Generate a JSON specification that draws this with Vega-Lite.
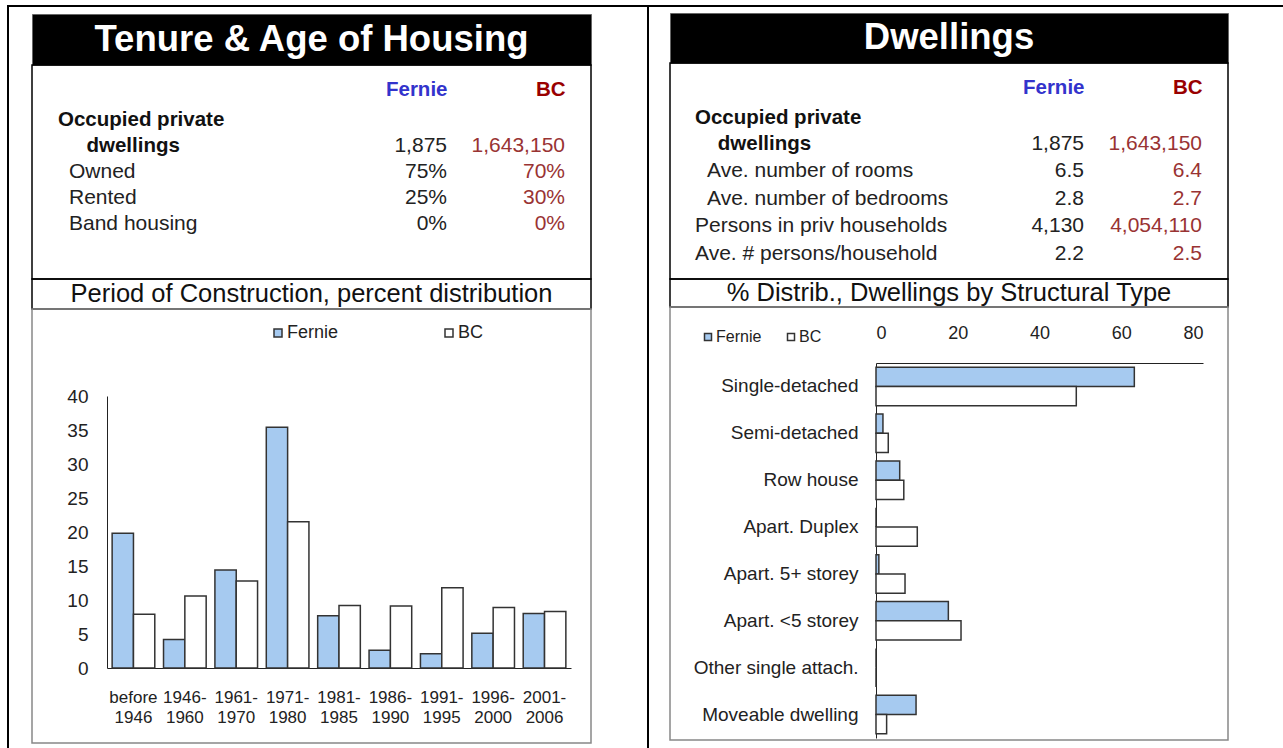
{
  "$schema": "https://vega.github.io/schema/vega-lite/v6.json",
  "background": "white",
  "padding": {"left": 7, "top": 5, "right": 0, "bottom": 0},
  "config": {
    "font": "Liberation Sans",
    "view": {"stroke": null},
    "axis": {"labelColor": "#222", "domainColor": "#222", "labelFont": "Liberation Sans", "grid": false, "ticks": false, "tickSize": 0, "title": null},
    "legend": {"labelFont": "Liberation Sans", "labelColor": "#222"}
  },
  "spacing": 0,
  "bounds": "full",
  "resolve": {"scale": {"color": "independent"}},
  "vconcat": [
    {"width": 1276, "height": 2, "view": {"fill": "black", "stroke": null}, "data": {"values": [{}]}, "mark": {"type": "point", "opacity": 0, "size": 0}, "encoding": {}},
    {
      "spacing": 0,
      "bounds": "full",
      "resolve": {"scale": {"color": "independent"}},
      "hconcat": [
        {"width": 2, "height": 741, "view": {"fill": "black", "stroke": null}, "data": {"values": [{}]}, "mark": {"type": "point", "opacity": 0, "size": 0}, "encoding": {}},
        {"width": 22, "height": 1, "data": {"values": [{}]}, "mark": {"type": "point", "opacity": 0, "size": 0}, "encoding": {}},
        {
          "spacing": 0,
          "bounds": "flush",
          "resolve": {"scale": {"color": "independent"}},
          "vconcat": [
            {"width": 559, "height": 7, "data": {"values": [{}]}, "mark": {"type": "point", "opacity": 0, "size": 0}, "encoding": {}},
            {
              "width": 559, "height": 51,
              "view": {"fill": "black", "stroke": "#666", "strokeWidth": 1},
              "data": {"values": [{"title": "Tenure & Age of Housing"}]},
              "mark": {"type": "text", "color": "white", "fontSize": 36.5, "fontWeight": "bold", "baseline": "middle"},
              "encoding": {
                "x": {"field": "title", "type": "nominal", "axis": null},
                "y": {"field": "title", "type": "nominal", "axis": null},
                "text": {"field": "title"}
              }
            },
            {
              "width": 559, "height": 214,
              "view": {"stroke": "black", "strokeWidth": 1.5},
              "data": {"values": [
                {"item": "Occupied private\n\u200b\u00a0\u00a0\u00a0\u00a0\u00a0dwellings", "level": 1, "Fernie": "1,875", "BC": "1,643,150"},
                {"item": "Owned", "level": 2, "Fernie": "75%", "BC": "70%"},
                {"item": "Rented", "level": 2, "Fernie": "25%", "BC": "30%"},
                {"item": "Band housing", "level": 2, "Fernie": "0%", "BC": "0%"}
              ]},
              "layer": [
                {
                  "transform": [{"filter": "indexof(datum.item, 'Occupied') == 0"}],
                  "mark": {"type": "text", "align": "left", "baseline": "bottom", "lineBreak": "\n", "lineHeight": 26, "dy": -26, "fontSize": 20.5, "fontWeight": "bold", "color": "#111"},
                  "encoding": {
                    "x": {"field": "level", "type": "ordinal", "scale": {"type": "point", "domain": [1, 2], "range": [26, 37], "padding": 0}, "axis": null},
                    "y": {"field": "item", "type": "nominal", "sort": null, "scale": {"type": "point", "range": [91, 169], "padding": 0}, "axis": null},
                    "text": {"field": "item"}
                  }
                },
                {
                  "transform": [{"filter": "indexof(datum.item, 'Occupied') != 0"}],
                  "mark": {"type": "text", "align": "left", "baseline": "bottom", "fontSize": 21, "color": "#222"},
                  "encoding": {
                    "x": {"field": "level", "type": "ordinal", "scale": {"type": "point", "domain": [1, 2], "range": [26, 37], "padding": 0}, "axis": null},
                    "y": {"field": "item", "type": "nominal", "sort": null, "axis": null},
                    "text": {"field": "item"}
                  }
                },
                {
                  "transform": [{"fold": ["Fernie", "BC"], "as": ["area", "value"]}],
                  "mark": {"type": "text", "align": "right", "baseline": "bottom", "fontSize": 21},
                  "encoding": {
                    "x": {"field": "area", "type": "nominal", "sort": ["Fernie", "BC"], "scale": {"type": "point", "range": [415, 533], "padding": 0},
                      "axis": {"orient": "top", "offset": -24, "labelPadding": 0, "labelBaseline": "middle", "labelAlign": "right", "labelAngle": 0, "labelFontSize": 20.5, "labelFontWeight": "bold", "domain": false,
                        "labelColor": {"condition": {"test": "datum.value === 'Fernie'", "value": "#3333CC"}, "value": "#990000"}}},
                    "y": {"field": "item", "type": "nominal", "sort": null, "axis": null},
                    "text": {"field": "value"},
                    "color": {"field": "area", "type": "nominal", "scale": {"domain": ["Fernie", "BC"], "range": ["#222222", "#993333"]}, "legend": null}
                  }
                }
              ],
              "resolve": {"scale": {"x": "independent"}}
            },
            {
              "width": 559, "height": 30,
              "view": {"stroke": "black", "strokeWidth": 1.5},
              "data": {"values": [{"title": "Period of Construction, percent distribution"}]},
              "mark": {"type": "text", "color": "#111", "fontSize": 25.5, "baseline": "middle"},
              "encoding": {
                "x": {"field": "title", "type": "nominal", "axis": null},
                "y": {"field": "title", "type": "nominal", "axis": null},
                "text": {"field": "title"}
              }
            },
            {
              "width": 559, "height": 434,
              "view": {"stroke": "#888", "strokeWidth": 1.5},
              "data": {"values": [
                {"period": "before 1946", "area": "Fernie", "pct": 19.8},
                {"period": "before 1946", "area": "BC", "pct": 7.9},
                {"period": "1946-1960", "area": "Fernie", "pct": 4.2},
                {"period": "1946-1960", "area": "BC", "pct": 10.6},
                {"period": "1961-1970", "area": "Fernie", "pct": 14.4},
                {"period": "1961-1970", "area": "BC", "pct": 12.8},
                {"period": "1971-1980", "area": "Fernie", "pct": 35.4},
                {"period": "1971-1980", "area": "BC", "pct": 21.5},
                {"period": "1981-1985", "area": "Fernie", "pct": 7.7},
                {"period": "1981-1985", "area": "BC", "pct": 9.2},
                {"period": "1986-1990", "area": "Fernie", "pct": 2.6},
                {"period": "1986-1990", "area": "BC", "pct": 9.1},
                {"period": "1991-1995", "area": "Fernie", "pct": 2.1},
                {"period": "1991-1995", "area": "BC", "pct": 11.8},
                {"period": "1996-2000", "area": "Fernie", "pct": 5.1},
                {"period": "1996-2000", "area": "BC", "pct": 8.9},
                {"period": "2001-2006", "area": "Fernie", "pct": 8.0},
                {"period": "2001-2006", "area": "BC", "pct": 8.3}
              ]},
              "mark": {"type": "bar", "stroke": "#333", "strokeWidth": 1.5},
              "encoding": {
                "x": {"field": "period", "type": "nominal", "sort": null,
                  "scale": {"range": [75, 539], "paddingInner": 0.17, "paddingOuter": 0.1},
                  "axis": {"orient": "bottom", "offset": -75, "labelAngle": 0, "labelFontSize": 17, "labelPadding": 21, "labelLineHeight": 20, "labelBaseline": "top",
                    "labelExpr": "indexof(datum.label, ' ') > 0 ? split(datum.label, ' ') : [slice(datum.label, 0, 5), slice(datum.label, 5)]"}},
                "xOffset": {"field": "area", "sort": ["Fernie", "BC"]},
                "y": {"field": "pct", "type": "quantitative",
                  "scale": {"domain": [0, 40], "range": [359, 87], "nice": false},
                  "axis": {"orient": "left", "offset": -75, "values": [0, 5, 10, 15, 20, 25, 30, 35, 40], "labelFontSize": 19, "labelPadding": 19}},
                "color": {"field": "area", "type": "nominal",
                  "scale": {"domain": ["Fernie", "BC"], "range": ["#A6CAF0", "#FFFFFF"]},
                  "legend": {"title": null, "orient": "none", "legendX": 237, "legendY": 15, "direction": "horizontal", "symbolType": "square", "symbolSize": 64, "symbolStrokeColor": "#333", "symbolStrokeWidth": 1.5, "labelFontSize": 18, "labelOffset": 0, "columnPadding": 101}}
              }
            }
          ]
        },
        {"width": 55, "height": 1, "data": {"values": [{}]}, "mark": {"type": "point", "opacity": 0, "size": 0}, "encoding": {}},
        {"width": 2, "height": 741, "view": {"fill": "black", "stroke": null}, "data": {"values": [{}]}, "mark": {"type": "point", "opacity": 0, "size": 0}, "encoding": {}},
        {"width": 20, "height": 1, "data": {"values": [{}]}, "mark": {"type": "point", "opacity": 0, "size": 0}, "encoding": {}},
        {
          "spacing": 0,
          "bounds": "flush",
          "resolve": {"scale": {"color": "independent"}},
          "vconcat": [
            {"width": 558, "height": 6, "data": {"values": [{}]}, "mark": {"type": "point", "opacity": 0, "size": 0}, "encoding": {}},
            {
              "width": 558, "height": 50,
              "view": {"fill": "black", "stroke": "#666", "strokeWidth": 1},
              "data": {"values": [{"title": "Dwellings"}]},
              "mark": {"type": "text", "color": "white", "fontSize": 36.5, "fontWeight": "bold", "baseline": "middle"},
              "encoding": {
                "x": {"field": "title", "type": "nominal", "axis": null},
                "y": {"field": "title", "type": "nominal", "axis": null},
                "text": {"field": "title"}
              }
            },
            {
              "width": 558, "height": 216,
              "view": {"stroke": "black", "strokeWidth": 1.5},
              "data": {"values": [
                {"item": "Occupied private\n\u200b\u00a0\u00a0\u00a0\u00a0dwellings", "level": 1, "Fernie": "1,875", "BC": "1,643,150"},
                {"item": "Ave. number of rooms", "level": 2, "Fernie": "6.5", "BC": "6.4"},
                {"item": "Ave. number of bedrooms", "level": 2, "Fernie": "2.8", "BC": "2.7"},
                {"item": "Persons in priv households", "level": 1, "Fernie": "4,130", "BC": "4,054,110"},
                {"item": "Ave. # persons/household", "level": 1, "Fernie": "2.2", "BC": "2.5"}
              ]},
              "layer": [
                {
                  "transform": [{"filter": "indexof(datum.item, 'Occupied') == 0"}],
                  "mark": {"type": "text", "align": "left", "baseline": "bottom", "lineBreak": "\n", "lineHeight": 26, "dy": -26, "fontSize": 20.5, "fontWeight": "bold", "color": "#111"},
                  "encoding": {
                    "x": {"field": "level", "type": "ordinal", "scale": {"type": "point", "domain": [1, 2], "range": [25, 37], "padding": 0}, "axis": null},
                    "y": {"field": "item", "type": "nominal", "sort": null, "scale": {"type": "point", "range": [90.5, 200.5], "padding": 0}, "axis": null},
                    "text": {"field": "item"}
                  }
                },
                {
                  "transform": [{"filter": "indexof(datum.item, 'Occupied') != 0"}],
                  "mark": {"type": "text", "align": "left", "baseline": "bottom", "fontSize": 21, "color": "#222"},
                  "encoding": {
                    "x": {"field": "level", "type": "ordinal", "scale": {"type": "point", "domain": [1, 2], "range": [25, 37], "padding": 0}, "axis": null},
                    "y": {"field": "item", "type": "nominal", "sort": null, "axis": null},
                    "text": {"field": "item"}
                  }
                },
                {
                  "transform": [{"fold": ["Fernie", "BC"], "as": ["area", "value"]}],
                  "mark": {"type": "text", "align": "right", "baseline": "bottom", "fontSize": 21},
                  "encoding": {
                    "x": {"field": "area", "type": "nominal", "sort": ["Fernie", "BC"], "scale": {"type": "point", "range": [414, 532], "padding": 0},
                      "axis": {"orient": "top", "offset": -24, "labelPadding": 0, "labelBaseline": "middle", "labelAlign": "right", "labelAngle": 0, "labelFontSize": 20.5, "labelFontWeight": "bold", "domain": false,
                        "labelColor": {"condition": {"test": "datum.value === 'Fernie'", "value": "#3333CC"}, "value": "#990000"}}},
                    "y": {"field": "item", "type": "nominal", "sort": null, "axis": null},
                    "text": {"field": "value"},
                    "color": {"field": "area", "type": "nominal", "scale": {"domain": ["Fernie", "BC"], "range": ["#222222", "#993333"]}, "legend": null}
                  }
                }
              ],
              "resolve": {"scale": {"x": "independent"}}
            },
            {
              "width": 558, "height": 28,
              "view": {"stroke": "black", "strokeWidth": 1.5},
              "data": {"values": [{"title": "% Distrib., Dwellings by Structural Type"}]},
              "mark": {"type": "text", "color": "#111", "fontSize": 25.5, "baseline": "middle"},
              "encoding": {
                "x": {"field": "title", "type": "nominal", "axis": null},
                "y": {"field": "title", "type": "nominal", "axis": null},
                "text": {"field": "title"}
              }
            },
            {
              "width": 558, "height": 433,
              "view": {"stroke": "#888", "strokeWidth": 1.5},
              "data": {"values": [
                {"type": "Single-detached", "area": "Fernie", "pct": 63.2},
                {"type": "Single-detached", "area": "BC", "pct": 49.0},
                {"type": "Semi-detached", "area": "Fernie", "pct": 1.7},
                {"type": "Semi-detached", "area": "BC", "pct": 3.0},
                {"type": "Row house", "area": "Fernie", "pct": 5.8},
                {"type": "Row house", "area": "BC", "pct": 6.8},
                {"type": "Apart. Duplex", "area": "Fernie", "pct": 0},
                {"type": "Apart. Duplex", "area": "BC", "pct": 10.1},
                {"type": "Apart. 5+ storey", "area": "Fernie", "pct": 0.7},
                {"type": "Apart. 5+ storey", "area": "BC", "pct": 7.1},
                {"type": "Apart. <5 storey", "area": "Fernie", "pct": 17.7},
                {"type": "Apart. <5 storey", "area": "BC", "pct": 20.8},
                {"type": "Other single attach.", "area": "Fernie", "pct": 0},
                {"type": "Other single attach.", "area": "BC", "pct": 0},
                {"type": "Moveable dwelling", "area": "Fernie", "pct": 9.8},
                {"type": "Moveable dwelling", "area": "BC", "pct": 2.6}
              ]},
              "mark": {"type": "bar", "stroke": "#333", "strokeWidth": 1.5},
              "encoding": {
                "y": {"field": "type", "type": "nominal", "sort": null,
                  "scale": {"range": [56, 431], "paddingInner": 0.18, "paddingOuter": 0.09},
                  "axis": {"orient": "left", "offset": -206, "labelFontSize": 19, "labelPadding": 18}},
                "yOffset": {"field": "area", "sort": ["Fernie", "BC"]},
                "x": {"field": "pct", "type": "quantitative",
                  "scale": {"domain": [0, 80], "range": [206, 533], "nice": false},
                  "axis": {"orient": "top", "offset": -56, "values": [0, 20, 40, 60, 80], "labelFontSize": 18, "labelPadding": 21}},
                "color": {"field": "area", "type": "nominal",
                  "scale": {"domain": ["Fernie", "BC"], "range": ["#A6CAF0", "#FFFFFF"]},
                  "legend": {"title": null, "orient": "none", "legendX": 30, "legendY": 22, "direction": "horizontal", "symbolType": "square", "symbolSize": 49, "symbolStrokeColor": "#333", "symbolStrokeWidth": 1.5, "labelFontSize": 16, "labelOffset": 0, "columnPadding": 21}}
              }
            }
          ]
        }
      ]
    }
  ]
}
